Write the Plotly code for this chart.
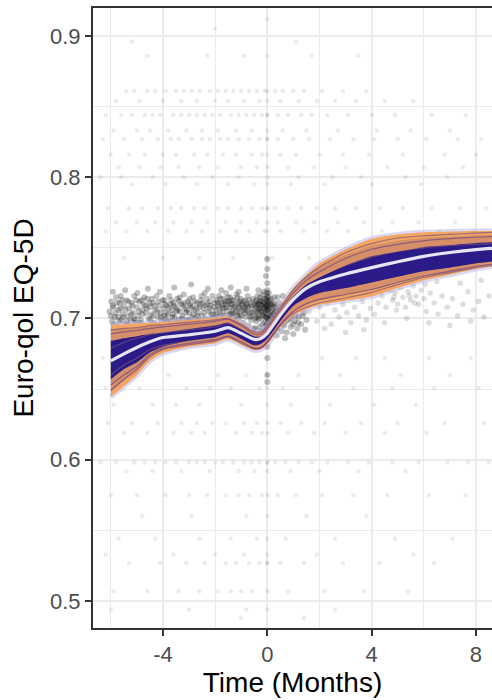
import plotly.graph_objects as go

# ---- fitted trajectory (posterior mean and spread of draws) ----
knots = [-6, -5.5, -5, -4.5, -4, -3, -2, -1.5, -1, -0.5, -0.25, 0, 0.5, 1, 1.5, 2, 3, 4, 5, 6, 7, 8, 8.7]
mean_fit = [0.670, 0.675, 0.6795, 0.6835, 0.6865, 0.6885, 0.691, 0.6936, 0.6895, 0.6852, 0.6858, 0.6895,
            0.7025, 0.7135, 0.7215, 0.7260, 0.7315, 0.7360, 0.7402, 0.7440, 0.7467, 0.7488, 0.7497]
outer_hi = [0.6955, 0.696, 0.6965, 0.697, 0.6975, 0.699, 0.7005, 0.7015, 0.697, 0.691, 0.691, 0.695,
            0.709, 0.7215, 0.731, 0.739, 0.749, 0.7565, 0.7595, 0.761, 0.7615, 0.762, 0.762]
outer_lo = [0.6445, 0.652, 0.660, 0.670, 0.6755, 0.680, 0.6825, 0.6855, 0.6815, 0.6775, 0.678, 0.6815,
            0.6935, 0.702, 0.7065, 0.7095, 0.7125, 0.7155, 0.7215, 0.727, 0.731, 0.735, 0.737]
mid_hi = [0.692, 0.6925, 0.693, 0.6945, 0.695, 0.697, 0.6985, 0.6995, 0.6955, 0.690, 0.690, 0.694,
          0.7075, 0.720, 0.7295, 0.7365, 0.745, 0.7515, 0.755, 0.757, 0.758, 0.759, 0.7595]
mid_lo = [0.648, 0.656, 0.6625, 0.6725, 0.678, 0.6815, 0.684, 0.6875, 0.683, 0.6785, 0.679, 0.683,
          0.695, 0.7045, 0.7095, 0.7125, 0.7165, 0.720, 0.7255, 0.730, 0.733, 0.7365, 0.738]
inner_hi = [0.684, 0.686, 0.6875, 0.689, 0.690, 0.6925, 0.695, 0.697, 0.6925, 0.6875, 0.6875, 0.6915,
            0.7045, 0.7155, 0.724, 0.729, 0.7375, 0.744, 0.7475, 0.7505, 0.752, 0.7535, 0.754]
inner_lo = [0.657, 0.664, 0.669, 0.676, 0.680, 0.684, 0.6865, 0.6895, 0.6855, 0.681, 0.682, 0.6855,
            0.698, 0.709, 0.7145, 0.718, 0.7215, 0.7255, 0.7295, 0.7335, 0.736, 0.739, 0.7405]

# a few individual posterior draws that stand out inside the band
draws_purple = [
    [0.692, 0.693, 0.6935, 0.695, 0.6955, 0.6975, 0.699, 0.700, 0.696, 0.6905, 0.6905, 0.6945,
     0.708, 0.7205, 0.7295, 0.7365, 0.7465, 0.753, 0.757, 0.7585, 0.7595, 0.7605, 0.761],
    [0.649, 0.657, 0.664, 0.673, 0.678, 0.6815, 0.684, 0.687, 0.6825, 0.6785, 0.679, 0.683,
     0.695, 0.7035, 0.708, 0.711, 0.7145, 0.7185, 0.724, 0.729, 0.7325, 0.736, 0.7375],
    [0.689, 0.6905, 0.6915, 0.693, 0.694, 0.696, 0.698, 0.6995, 0.695, 0.689, 0.689, 0.693,
     0.706, 0.718, 0.727, 0.733, 0.7425, 0.749, 0.7525, 0.755, 0.7565, 0.7575, 0.758],
    [0.653, 0.660, 0.666, 0.6745, 0.679, 0.6825, 0.685, 0.6875, 0.6835, 0.679, 0.6795, 0.6835,
     0.696, 0.705, 0.7105, 0.7135, 0.717, 0.7205, 0.7255, 0.730, 0.7335, 0.737, 0.7385],
]
draws_orange = [
    [0.679, 0.683, 0.686, 0.6885, 0.690, 0.692, 0.694, 0.6965, 0.6925, 0.6875, 0.6875, 0.6915,
     0.7045, 0.7165, 0.7245, 0.730, 0.7375, 0.7435, 0.7475, 0.750, 0.7515, 0.7525, 0.753],
    [0.660, 0.667, 0.672, 0.678, 0.681, 0.684, 0.6865, 0.689, 0.685, 0.680, 0.681, 0.685,
     0.697, 0.7075, 0.7125, 0.716, 0.7205, 0.7245, 0.729, 0.733, 0.7355, 0.7385, 0.7395],
]

# ---- observed scores: dense cloud of individual visits ----
cloud_x = [
    -6.05, -5.98, -5.95, -5.9, -5.85, -5.8, -5.76, -5.7, -5.66, -5.6, -5.55, -5.5, -5.46, -5.4, -5.35, -5.3,
    -5.25, -5.2, -5.15, -5.1, -5.05, -5.0, -4.95, -4.9, -4.85, -4.8, -4.75, -4.7, -4.65, -4.6, -4.55, -4.5,
    -4.45, -4.4, -4.35, -4.3, -4.25, -4.2, -4.15, -4.1, -4.05, -5.92, -5.45, -4.98, -4.58, -4.12, -5.72, -5.28,
    -4.82, -4.38, -5.62, -5.12, -4.68,
    -3.98, -3.94, -3.9, -3.85, -3.8, -3.76, -3.7, -3.66, -3.6, -3.55, -3.5, -3.45, -3.4, -3.35, -3.3, -3.25,
    -3.2, -3.15, -3.1, -3.05, -3.0, -2.95, -2.9, -2.85, -2.8, -2.75, -2.7, -2.65, -2.6, -2.55, -2.5, -2.45,
    -2.4, -2.35, -2.3, -2.25, -2.2, -2.15, -2.1, -2.05, -3.88, -3.62, -3.38, -3.12, -2.88, -2.62, -2.38, -2.12,
    -3.72, -3.48, -3.22, -2.98, -2.72, -2.48, -2.22, -3.57, -2.92, -2.28,
    -1.98, -1.95, -1.92, -1.88, -1.85, -1.82, -1.78, -1.75, -1.72, -1.68, -1.65, -1.62, -1.58, -1.55, -1.52,
    -1.48, -1.45, -1.42, -1.38, -1.35, -1.32, -1.28, -1.25, -1.22, -1.18, -1.15, -1.12, -1.08, -1.05, -1.02,
    -0.98, -0.95, -0.92, -0.88, -0.85, -0.82, -0.78, -0.75, -0.72, -0.68, -0.65, -0.62, -0.58, -0.55, -0.52,
    -1.9, -1.6, -1.3, -1.0, -0.7, -1.76, -1.4, -1.1, -0.8, -1.66, -1.36, -1.06, -0.76, -1.46, -1.16, -0.86, -0.6,
    -0.48, -0.45, -0.42, -0.4, -0.38, -0.35, -0.32, -0.3, -0.28, -0.25, -0.22, -0.2, -0.18, -0.15, -0.12, -0.1,
    -0.08, -0.05, -0.03, 0.0, 0.0, 0.0, 0.0, 0.0, 0.0, 0.0, 0.0, 0.02, 0.05, 0.08, 0.1, 0.12, 0.15, 0.18, 0.2,
    0.22, 0.25, 0.28, -0.46, -0.34, -0.24, -0.14, -0.04, 0.06, 0.16, 0.26, -0.4, -0.3, -0.2, -0.1, 0.04, 0.14,
    0.24, -0.44, -0.36, -0.26, -0.16, -0.06, -0.02, 0.0, 0.0, 0.0, 0.0, 0.0, -0.05, 0.0,
    0.32, 0.35, 0.38, 0.42, 0.45, 0.48, 0.52, 0.55, 0.58, 0.62, 0.65, 0.7, 0.75, 0.8, 0.85, 0.9, 0.95, 1.0,
    1.05, 1.1, 1.15, 1.2, 1.3, 1.4, 1.5, 0.4, 0.6, 0.8, 1.25, 1.45, 0.36, 0.68, 1.02,
    1.6, 1.75, 1.9, 2.0, 2.15, 2.3, 2.45, 2.6, 2.75, 2.9, 3.05, 3.2, 3.35, 3.5, 3.65, 3.8, 3.95, 4.1, 4.25,
    4.4, 4.55, 4.7, 4.8, 4.9, 5.0, 5.1, 5.2, 5.3, 5.4, 5.5, 5.6, 5.7, 5.8, 5.9, 6.0, 6.1, 6.25, 6.4, 6.55,
    6.7, 6.9, 7.1, 7.3, 7.5, 7.7, 7.9, 8.1, 8.3, 8.5, 2.2, 3.0, 3.7, 4.5, 5.35, 6.2, 7.0, 7.8, 1.8, 2.5, 3.3,
    4.0, 4.65, 5.25, 6.5, 7.4, 8.2, 4.85, 5.45, 5.65, 4.95, 6.05,
    -6.0, -5.93, -5.87, -5.82, -5.77, -5.68, -5.63, -5.57, -5.52, -5.43, -5.38, -5.33, -5.22, -5.17, -5.08,
    -5.02, -4.92, -4.87, -4.78, -4.72, -4.62, -4.52, -4.48, -4.42, -4.32, -4.22, -4.18, -4.08, -4.02,
    -3.96, -3.92, -3.83, -3.78, -3.68, -3.64, -3.58, -3.52, -3.43, -3.36, -3.28, -3.18, -3.08, -3.02, -2.97,
    -2.83, -2.78, -2.68, -2.58, -2.52, -2.42, -2.32, -2.18, -2.08, -2.02,
    -1.96, -1.9, -1.84, -1.8, -1.74, -1.7, -1.64, -1.6, -1.56, -1.5, -1.44, -1.4, -1.34, -1.3, -1.26, -1.2,
    -1.14, -1.1, -1.04, -1.0, -0.96, -0.9, -0.84, -0.8, -0.74, -0.7, -0.66, -0.6, -0.56, -0.5,
    -0.47, -0.43, -0.39, -0.37, -0.33, -0.31, -0.27, -0.23, -0.21, -0.17, -0.13, -0.11, -0.07, -0.05, -0.01,
    0.01, 0.03, 0.07, 0.09, 0.11, 0.13, 0.17, 0.19, 0.23, 0.27, 0.3, -0.19, -0.09, 0.0, 0.0, 0.0, -0.01, 0.01,
    0.33, 0.41, 0.47, 0.53, 0.57, 0.63, 0.72, 0.78, 0.88, 0.98, 1.08, 1.18, 1.35,
]
cloud_y = [
    0.705, 0.712, 0.698, 0.708, 0.701, 0.715, 0.694, 0.706, 0.711, 0.699, 0.703, 0.709, 0.696, 0.713, 0.702, 0.707,
    0.699, 0.711, 0.704, 0.716, 0.697, 0.708, 0.702, 0.712, 0.699, 0.706, 0.710, 0.695, 0.704, 0.714, 0.700, 0.708,
    0.703, 0.711, 0.697, 0.706, 0.716, 0.701, 0.709, 0.704, 0.698, 0.719, 0.720, 0.718, 0.721, 0.719, 0.701, 0.695,
    0.713, 0.702, 0.716, 0.700, 0.709,
    0.707, 0.713, 0.700, 0.709, 0.703, 0.716, 0.698, 0.706, 0.711, 0.701, 0.708, 0.714, 0.699, 0.705, 0.710, 0.702,
    0.717, 0.707, 0.699, 0.712, 0.704, 0.709, 0.701, 0.715, 0.706, 0.700, 0.711, 0.704, 0.708, 0.713, 0.702, 0.707,
    0.718, 0.700, 0.710, 0.705, 0.712, 0.703, 0.716, 0.708, 0.704, 0.703, 0.712, 0.704, 0.708, 0.699, 0.709, 0.700,
    0.710, 0.705, 0.709, 0.714, 0.707, 0.711, 0.707, 0.722, 0.724, 0.721,
    0.706, 0.713, 0.701, 0.709, 0.716, 0.704, 0.711, 0.699, 0.707, 0.714, 0.702, 0.710, 0.718, 0.705, 0.712,
    0.700, 0.708, 0.715, 0.703, 0.710, 0.706, 0.713, 0.698, 0.709, 0.717, 0.704, 0.711, 0.700, 0.707, 0.714,
    0.702, 0.710, 0.697, 0.706, 0.713, 0.701, 0.709, 0.716, 0.695, 0.704, 0.711, 0.699, 0.707, 0.714, 0.693,
    0.696, 0.694, 0.696, 0.693, 0.690, 0.720, 0.722, 0.719, 0.721, 0.707, 0.704, 0.712, 0.705, 0.712, 0.702, 0.708, 0.702,
    0.705, 0.712, 0.698, 0.708, 0.716, 0.702, 0.710, 0.694, 0.706, 0.713, 0.700, 0.709, 0.717, 0.703, 0.711, 0.697,
    0.707, 0.714, 0.701, 0.709, 0.703, 0.715, 0.697, 0.720, 0.692, 0.725, 0.688, 0.706, 0.712, 0.699, 0.708, 0.702, 0.714, 0.696, 0.705,
    0.710, 0.701, 0.708, 0.693, 0.720, 0.691, 0.719, 0.695, 0.718, 0.704, 0.715, 0.701, 0.712, 0.704, 0.710, 0.710, 0.700,
    0.696, 0.709, 0.706, 0.710, 0.707, 0.704, 0.713, 0.735, 0.742, 0.680, 0.672, 0.655, 0.730, 0.660,
    0.699, 0.707, 0.693, 0.703, 0.711, 0.697, 0.706, 0.691, 0.701, 0.709, 0.695, 0.704, 0.690, 0.699, 0.707, 0.694, 0.702, 0.689,
    0.698, 0.706, 0.693, 0.701, 0.696, 0.704, 0.699, 0.715, 0.716, 0.712, 0.709, 0.692, 0.688, 0.686, 0.712,
    0.705, 0.712, 0.698, 0.708, 0.702, 0.711, 0.696, 0.706, 0.701, 0.710, 0.704, 0.697, 0.708, 0.702, 0.712, 0.699, 0.707, 0.703, 0.711,
    0.716, 0.708, 0.720, 0.713, 0.718, 0.710, 0.722, 0.715, 0.708, 0.719, 0.713, 0.723, 0.716, 0.710, 0.720, 0.714, 0.705, 0.718, 0.711, 0.703,
    0.716, 0.708, 0.714, 0.702, 0.710, 0.719, 0.706, 0.712, 0.701, 0.716, 0.693, 0.690, 0.692, 0.697, 0.700, 0.697, 0.695, 0.698, 0.722, 0.720, 0.722,
    0.724, 0.727, 0.728, 0.726, 0.725, 0.727, 0.715, 0.716, 0.711, 0.706, 0.724,
    0.702, 0.709, 0.696, 0.704, 0.711, 0.698, 0.707, 0.713, 0.701, 0.706, 0.698, 0.712, 0.703, 0.709, 0.699,
    0.713, 0.705, 0.697, 0.703, 0.715, 0.707, 0.711, 0.699, 0.714, 0.709, 0.705, 0.712, 0.701, 0.713,
    0.702, 0.710, 0.698, 0.707, 0.713, 0.701, 0.709, 0.697, 0.706, 0.715, 0.700, 0.711, 0.706, 0.699, 0.710,
    0.703, 0.712, 0.702, 0.710, 0.716, 0.704, 0.714, 0.709, 0.703, 0.711,
    0.703, 0.711, 0.707, 0.714, 0.703, 0.710, 0.698, 0.712, 0.708, 0.715, 0.703, 0.710, 0.713, 0.701, 0.708, 0.705,
    0.715, 0.708, 0.703, 0.710, 0.706, 0.712, 0.704, 0.710, 0.708, 0.713, 0.701, 0.709, 0.704, 0.710,
    0.700, 0.713, 0.704, 0.710, 0.700, 0.707, 0.715, 0.705, 0.712, 0.702, 0.708, 0.714, 0.701, 0.709, 0.706,
    0.716, 0.700, 0.707, 0.713, 0.696, 0.710, 0.702, 0.709, 0.703, 0.711, 0.705, 0.696, 0.692, 0.700, 0.711, 0.706, 0.718, 0.694,
    0.705, 0.698, 0.708, 0.700, 0.696, 0.704, 0.698, 0.707, 0.700, 0.696, 0.702, 0.697, 0.702,
]

# ---- observed scores on the discrete EQ-5D tariff levels ----
level_y = [0.912, 0.905, 0.896, 0.886, 0.861, 0.854, 0.844, 0.833, 0.827, 0.816, 0.807, 0.800, 0.795,
           0.778, 0.768, 0.762, 0.743, 0.672, 0.660, 0.651, 0.639, 0.626, 0.619, 0.598, 0.592, 0.575,
           0.560, 0.544, 0.533, 0.527, 0.507, 0.494, 0.488]
level_x = [
    [0.0],
    [-2.0],
    [-5.2, 1.1],
    [-4.6, -2.3, -0.9, 0.0, 1.7, 3.5],
    [-5.4, -5.1, -4.6, -4.3, -3.9, -3.5, -3.2, -2.9, -2.6, -2.2, -1.9, -1.6, -1.3, -1.0, -0.7, -0.4, -0.1,
     0.0, 0.3, 0.6, 1.0, 1.4, 2.1, 2.9, 3.8],
    [-5.8, -4.9, -4.0, -3.3, -2.7, -2.0, -1.5, -0.9, -0.3, 0.0, 0.5, 1.2, 1.9, 2.6, 3.4, 4.5, 5.6],
    [-6.2, -5.6, -5.2, -4.7, -4.4, -4.1, -3.6, -3.3, -3.0, -2.7, -2.4, -2.1, -1.8, -1.4, -1.1, -0.8, -0.5,
     -0.2, 0.0, 0.0, 0.4, 0.8, 1.3, 1.7, 2.3, 3.1, 4.0, 4.9, 6.3, 7.6],
    [-5.9, -5.0, -4.5, -3.8, -3.1, -2.5, -1.9, -1.2, -0.6, 0.0, 0.6, 1.5, 2.7, 4.2, 5.5, 7.0],
    [-6.3, -5.5, -4.8, -4.2, -3.7, -3.4, -2.9, -2.5, -2.2, -1.8, -1.5, -1.1, -0.7, -0.3, 0.0, 0.0, 0.4, 1.0,
     1.6, 2.4, 3.3, 4.1, 5.0, 6.1, 7.3, 8.2],
    [-6.0, -5.3, -4.7, -4.0, -3.5, -2.8, -2.3, -1.7, -1.2, -0.6, -0.2, 0.0, 0.5, 1.1, 2.0, 2.9, 3.9, 5.2, 6.8, 8.0],
    [-5.7, -4.9, -4.1, -3.4, -2.6, -1.9, -1.0, -0.4, 0.0, 0.8, 1.8, 3.0, 4.6, 6.0, 7.5],
    [-6.4, -5.6, -4.4, -3.2, -2.1, -1.1, 0.0, 1.2, 2.5, 3.6, 5.3, 6.9],
    [-5.2, -3.9, -2.7, -1.5, -0.5, 0.0, 0.9, 2.2, 4.0, 5.9],
    [-6.1, -5.3, -4.8, -4.2, -3.7, -3.3, -2.8, -2.4, -1.9, -1.5, -1.0, -0.6, -0.2, 0.0, 0.0, 0.3, 0.8, 1.3,
     1.9, 2.6, 3.4, 4.3, 5.2, 6.3, 7.4, 8.4],
    [-5.8, -5.0, -4.3, -3.6, -2.9, -2.3, -1.6, -1.0, -0.4, 0.0, 0.4, 1.1, 1.8, 2.7, 3.7, 4.8, 5.8, 7.2],
    [-6.2, -5.4, -4.6, -3.8, -3.1, -2.5, -1.8, -1.2, -0.7, -0.1, 0.0, 0.5, 1.4, 2.3, 3.1, 4.4, 6.6, 7.9],
    [-5.5, -4.0, -2.6, -1.3, 0.0, 0.2, 1.6, 2.9],
    [-6.3, 2.1, 3.4, 4.5, 6.2, 7.8],
    [-5.6, -3.8, -1.9, -0.8, 0.0, 1.2, 2.8, 5.1, 7.0],
    [-6.2, -4.9, -3.1, -2.2, -1.4, -0.3, 0.0, 0.6, 1.9, 3.3, 4.8, 6.4, 8.1],
    [-5.9, -4.4, -3.5, -2.6, -1.0, 0.0, 0.9, 2.4, 4.1, 5.7],
    [-6.1, -5.2, -4.2, -3.3, -2.7, -2.1, -1.6, -0.9, -0.4, 0.0, 0.5, 1.3, 2.2, 3.6, 5.0, 6.8, 8.3],
    [-5.5, -4.6, -3.6, -2.9, -2.4, -1.2, -0.6, -0.2, 0.0, 0.8, 1.8, 3.0, 4.5, 6.1],
    [-6.4, -5.8, -5.1, -4.7, -4.3, -3.9, -3.5, -3.0, -2.7, -2.4, -2.0, -1.7, -1.3, -0.9, -0.6, -0.3, 0.0,
     0.0, 0.3, 0.7, 1.2, 1.7, 2.3, 3.1, 3.9, 4.8, 5.8, 6.9, 7.7, 8.5],
    [-5.4, -4.4, -3.3, -2.2, -1.1, -0.5, 0.0, 0.9, 2.0, 3.5, 5.3],
    [-6.0, -5.0, -3.9, -3.0, -2.3, -1.6, -1.1, -0.7, -0.2, 0.0, 0.4, 1.1, 2.1, 3.3, 4.6, 6.2, 7.6],
    [-4.8, -2.9, -0.8, 0.0, 1.5, 3.8],
    [-5.7, -4.3, -2.6, -1.4, -0.4, 0.0, 0.7, 2.6, 4.9, 7.1],
    [-6.2, -3.6, -2.0, -0.9, 0.0, 1.9, 5.6],
    [-5.3, -4.1, -3.1, -2.4, -1.6, -1.2, -0.7, -0.3, 0.0, 0.0, 0.5, 1.4, 2.9, 4.3, 6.4],
    [-5.9, -4.6, -3.4, -2.6, -1.9, -1.4, -1.0, -0.6, 0.0, 0.8, 2.2, 3.7, 5.4],
    [-6.0, -3.0, -0.8, 0.0, 2.6],
    [-1.0, 1.4],
]

levels_px, levels_py = [], []
for yv, xs in zip(level_y, level_x):
    levels_px.extend(xs)
    levels_py.extend([yv] * len(xs))

# visits up to ~6 weeks after baseline are far denser than later follow-up
early = [(x, y) for x, y in zip(cloud_x, cloud_y) if x <= 1.5]
late = [(x, y) for x, y in zip(cloud_x, cloud_y) if x > 1.5]

FONT = "Liberation Sans, Arial, sans-serif"
SMOOTH = 0.6

fig = go.Figure()

# raw observations
fig.add_trace(go.Scatter(x=levels_px, y=levels_py, mode="markers",
                         marker=dict(size=4.5, color="rgba(0,0,0,0.08)", line=dict(width=0)),
                         hoverinfo="skip"))
fig.add_trace(go.Scatter(x=[p[0] for p in late], y=[p[1] for p in late], mode="markers",
                         marker=dict(size=5.5, color="rgba(0,0,0,0.13)", line=dict(width=0)),
                         hoverinfo="skip"))
fig.add_trace(go.Scatter(x=[p[0] for p in early], y=[p[1] for p in early], mode="markers",
                         marker=dict(size=6, color="rgba(0,0,0,0.25)", line=dict(width=0)),
                         hoverinfo="skip"))

# faint lavender halo around the envelope of draws
for edge in (outer_hi, outer_lo):
    fig.add_trace(go.Scatter(x=knots, y=edge, mode="lines",
                             line=dict(color="rgba(170,170,235,0.45)", width=5, shape="spline", smoothing=SMOOTH),
                             hoverinfo="skip"))


def band(lo, hi, color):
    fig.add_trace(go.Scatter(x=knots, y=lo, mode="lines",
                             line=dict(width=0, shape="spline", smoothing=SMOOTH), hoverinfo="skip"))
    fig.add_trace(go.Scatter(x=knots, y=hi, mode="lines", fill="tonexty", fillcolor=color,
                             line=dict(width=0, shape="spline", smoothing=SMOOTH), hoverinfo="skip"))


band(outer_lo, outer_hi, "rgb(243,166,98)")
band(mid_lo, mid_hi, "rgba(60,25,140,0.16)")
for d in draws_purple:
    fig.add_trace(go.Scatter(x=knots, y=d, mode="lines",
                             line=dict(color="rgba(35,15,145,0.4)", width=1.2, shape="spline", smoothing=SMOOTH),
                             hoverinfo="skip"))
band(inner_lo, inner_hi, "rgba(24,14,140,0.9)")
for d in draws_orange:
    fig.add_trace(go.Scatter(x=knots, y=d, mode="lines",
                             line=dict(color="rgba(243,166,98,0.28)", width=1.2, shape="spline", smoothing=SMOOTH),
                             hoverinfo="skip"))

# posterior mean
fig.add_trace(go.Scatter(x=knots, y=mean_fit, mode="lines",
                         line=dict(color="rgb(230,230,242)", width=3.2, shape="spline", smoothing=SMOOTH),
                         hoverinfo="skip"))

axis_common = dict(
    showgrid=True, gridcolor="#EBEBEB", gridwidth=2, zeroline=False,
    showline=True, linecolor="#333333", linewidth=2,
    ticks="outside", ticklen=6, tickwidth=2, tickcolor="#333333",
    tickfont=dict(family=FONT, size=22, color="#4D4D4D"),
)

fig.update_xaxes(
    **axis_common, range=[-6.683, 8.616], mirror=True,
    tickvals=[-4, 0, 4, 8], ticktext=["-4", "0", "4", "8"],
    minor=dict(tickvals=[-6, -2, 2, 6], showgrid=True, gridcolor="#EBEBEB", gridwidth=1, ticks=""),
    title=dict(text="Time (Months)", font=dict(family=FONT, size=28, color="black"), standoff=6),
)
fig.update_yaxes(
    **axis_common, range=[0.4809, 0.9198],
    tickvals=[0.5, 0.6, 0.7, 0.8, 0.9], ticktext=["0.5", "0.6", "0.7", "0.8", "0.9"],
    minor=dict(tickvals=[0.55, 0.65, 0.75, 0.85], showgrid=True, gridcolor="#EBEBEB", gridwidth=1, ticks=""),
    title=dict(text="Euro-qol EQ-5D", font=dict(family=FONT, size=28, color="black"), standoff=8),
)

fig.update_layout(
    width=492, height=700,
    margin=dict(l=93, r=0, t=8, b=72),
    plot_bgcolor="white", paper_bgcolor="white",
    showlegend=False,
)

fig.write_html("out.html")
